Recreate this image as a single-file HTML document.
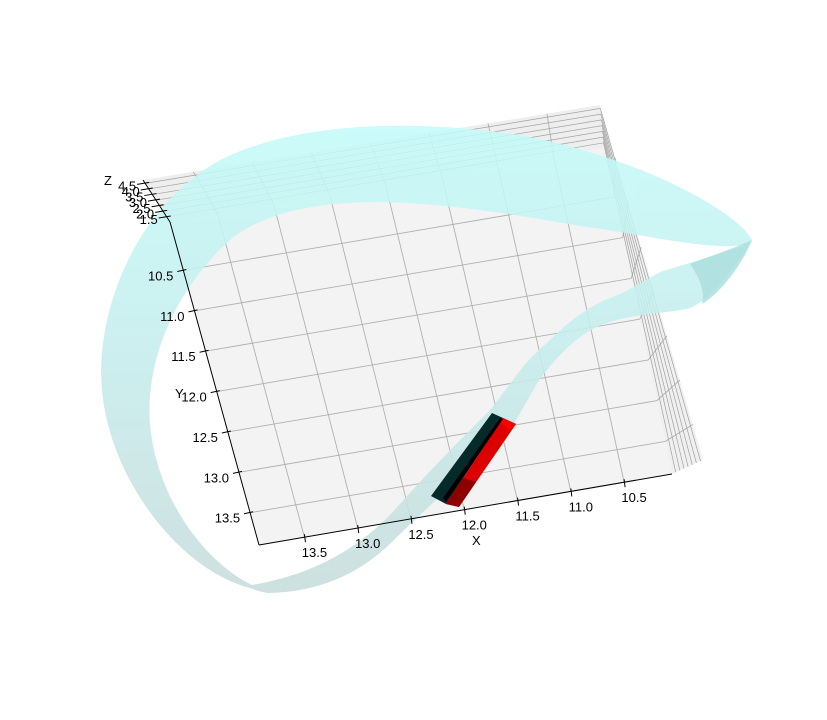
<!DOCTYPE html>
<html><head><meta charset="utf-8"><style>
html,body{margin:0;padding:0;background:#fff}
svg text{font-family:"Liberation Sans",sans-serif;font-size:13px;fill:#000}
</style></head><body>
<svg id="chart" width="827" height="715" viewBox="0 0 827 715" xmlns="http://www.w3.org/2000/svg">
<defs>
<linearGradient id="rib" x1="0" y1="0" x2="0" y2="1">
<stop offset="0" stop-color="#c4fbf9"/><stop offset="0.5" stop-color="#c6ecec"/><stop offset="1" stop-color="#c8dcdc"/>
</linearGradient>
</defs>
<g id="panes"></g>
<g id="grid"></g>
<g opacity="0.88">
<path fill="url(#rib)" fill-rule="evenodd" d="M752,240 C740,215 650,160 520,135 C420,120 300,120 220,160 C130,210 95,320 102,390 C110,480 180,570 250,588 C258,591 262,592 268,593 C330,592 370,565 397,537 C440,495 470,470 497,447 C520,420 530,390 547,370 C565,348 580,335 597,327 C630,312 670,314 690,308 C715,298 740,260 752,240 Z M752,244 C710,252 650,235 580,226 C500,212 440,203 380,202 C310,202 260,215 230,240 C175,290 145,360 150,425 C158,505 210,565 252,585 C320,573 360,545 390,515 C430,470 460,440 490,410 C510,385 525,360 547,343 C570,320 590,305 613,297 C640,285 655,274 663,271 C690,263 725,252 752,244 Z"/>
<path fill="#9fd9d9" opacity="0.8" d="M752,240 C730,250 710,256 690,264 C700,278 705,292 702,304 C725,290 745,258 752,240 Z"/>
</g>
<g id="axes"></g>
<g>
<polygon points="431,496 492,413 503,418 446,504" fill="#062a2a"/>
<polygon points="446,504 503,418 516,424 459,507" fill="#dd0000"/>
<polygon points="497,421 503,418 516,424 510,430" fill="#ff0000"/>
<polygon points="446,504 463,478 476,482 459,507" fill="#8e0000"/>
<polygon points="443,498 500,418 503,419 446,502" fill="#000"/>
</g>
<text x="104" y="185">Z</text>
<text x="175" y="398">Y</text>
<text x="472" y="545">X</text>
</svg>
<script>
const xTicks=[13.5,13.0,12.5,12.0,11.5,11.0,10.5];
const yTicks=[10.5,11.0,11.5,12.0,12.5,13.0,13.5];
const zTicks=[1.5,2.0,2.5,3.0,3.5,4.0,4.5];
const NS='http://www.w3.org/2000/svg';
const TL=[170,222],TR=[604,148],BR=[672,474],BL=[259,545];
const WTL=[143,180],WTR=[600,105],WBR=[703,460];
function lerp(a,b,t){return [a[0]+(b[0]-a[0])*t,a[1]+(b[1]-a[1])*t];}
function floor(u,v){return lerp(lerp(TL,TR,u),lerp(BL,BR,u),v);}
const xu=x=>0.11+(13.5-x)/0.5*0.129;
const yv=y=>0.15+(y-10.5)/0.5*0.125;
const zt=z=>(z-1.5)/3.0;
function el(tag,attrs,parent){const e=document.createElementNS(NS,tag);for(const k in attrs)e.setAttribute(k,attrs[k]);parent.appendChild(e);return e;}
const panes=document.getElementById('panes'),grid=document.getElementById('grid'),axes=document.getElementById('axes');
const pts=a=>a.map(p=>p.join(',')).join(' ');
let p1=el('polygon',{points:pts([TL,TR,BR,BL]),fill:'#f3f3f3'},panes);


let p2=el('polygon',{points:pts([WTL,WTR,TR,TL]),fill:'#eeeeee'},panes);


let p3=el('polygon',{points:pts([TR,WTR,WBR,BR]),fill:'#f0f0f0'},panes);


const gs={stroke:'#b0b0b0','stroke-width':0.9,fill:'none'};
xTicks.forEach((x,i)=>{
  const u=xu(x);const a=floor(u,0),b=floor(u,1),w=lerp(WTL,WTR,u);
  const l=el('polyline',Object.assign({points:pts([w,a,b])},gs),grid);
  
  
  const tk=el('line',{x1:b[0],y1:b[1]-3,x2:b[0]+1,y2:b[1]+5,stroke:'#000'},axes);
  
  
  const tx=el('text',{x:b[0]+10,y:b[1]+20,'text-anchor':'middle'},axes);tx.textContent=x.toFixed(1);
  
  
});
yTicks.forEach((y,i)=>{
  const v=yv(y);const a=floor(0,v),b=floor(1,v),w=lerp(WTR,WBR,v);
  const l=el('polyline',Object.assign({points:pts([a,b,w])},gs),grid);
  
  
  const tk=el('line',{x1:a[0]-6,y1:a[1]+1,x2:a[0]+3,y2:a[1]-1,stroke:'#000'},axes);
  
  
  const tx=el('text',{x:a[0]-10,y:a[1]+10,'text-anchor':'end'},axes);tx.textContent=y.toFixed(1);
  
  
});
zTicks.forEach((z,i)=>{
  const t=zt(z);
  const a=lerp(TL,WTL,0.12+t*0.8),b=lerp(TR,WTR,0.12+t*0.8),c=lerp(BR,WBR,0.12+t*0.8);
  const l=el('polyline',Object.assign({points:pts([a,b,c])},gs),grid);
  l.setAttribute('stroke','#a0a0a0');
  l.setAttribute('stroke-width','0.7');
  
  
  const tk=el('line',{x1:a[0]-8,y1:a[1]+1,x2:a[0]+4,y2:a[1]-1,stroke:'#000'},axes);
  
  
  const tx=el('text',{x:a[0]-9,y:a[1]+7,'text-anchor':'end'},axes);tx.textContent=z.toFixed(1);
  
  
});
const ax=[[WTL,TL],[TL,BL],[BL,BR]];
ax.forEach(s=>{const l=el('line',{x1:s[0][0],y1:s[0][1],x2:s[1][0],y2:s[1][1],stroke:'#000','stroke-width':1},axes);
  
  });
</script>
</body></html>
